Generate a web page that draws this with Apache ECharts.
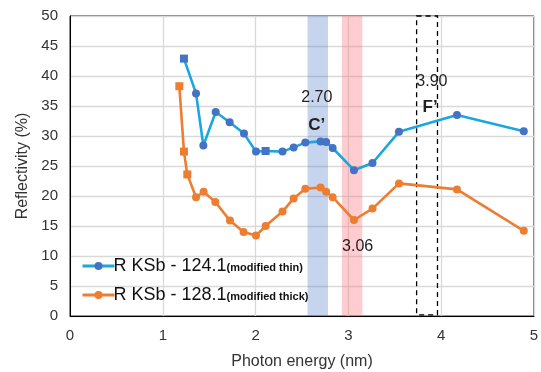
<!DOCTYPE html>
<html>
<head>
<meta charset="utf-8">
<script src="https://cdn.jsdelivr.net/npm/echarts@6/dist/echarts.min.js"></script>
<style>
  html, body { margin: 0; padding: 0; background: #fff; }
  #chart { width: 541px; height: 372px; }
</style>
</head>
<body>
<div id="chart"></div>
<script>
// photon energy (x) and reflectivity (%)
const thinEnergy = [1.228, 1.358, 1.437, 1.57, 1.72, 1.875, 2.004, 2.108, 2.29, 2.41, 2.536, 2.70, 2.76, 2.83, 3.06, 3.26, 3.545, 4.17, 4.89];
const thinRefl = [42.9, 37.1, 28.4, 34.0, 32.3, 30.4, 27.4, 27.5, 27.4, 28.1, 28.9, 29.1, 29.0, 28.0, 24.3, 25.5, 30.7, 33.5, 30.8];
const thickEnergy = [1.178, 1.228, 1.264, 1.358, 1.44, 1.566, 1.724, 1.87, 2.004, 2.108, 2.29, 2.41, 2.536, 2.70, 2.76, 2.83, 3.06, 3.26, 3.545, 4.17, 4.89];
const thickRefl = [38.3, 27.4, 23.6, 19.8, 20.7, 19.0, 15.9, 14.0, 13.4, 15.0, 17.4, 19.6, 21.2, 21.4, 20.7, 19.8, 16.0, 17.9, 22.1, 21.1, 14.2];

const seriesNames = ['R KSb - 124.1', 'R KSb - 128.1'];
const seriesNotes = ['(modified thin)', '(modified thick)'];

// highlighted bands and the dashed box (x ranges)
const bandC = [2.56, 2.78];
const bandRed = [2.93, 3.15];
const boxF = [3.735, 3.96];

// annotation texts: [x, y, text]
const notes = [
  [2.66, 36.4, '2.70'],
  [3.90, 39.0, '3.90'],
  [3.10, 11.6, '3.06']
];
const boldNotes = [
  [2.66, 31.8, 'C\u2019'],
  [3.88, 34.8, 'F\u2019']
];

// points drawn with square (error bar) markers
const thinSquares = [0, 7];
const thickSquares = [0, 1, 2];

const pairs = (xs, ys) => xs.map((x, i) => [x, ys[i]]);
const font = 'Liberation Sans, Arial, sans-serif';

const chart = echarts.init(document.getElementById('chart'));

const textLabel = (n, size, bold) => ({
  coord: [n[0], n[1]],
  symbol: 'circle',
  symbolSize: 1,
  itemStyle: { color: 'rgba(0,0,0,0)' },
  label: {
    show: true,
    position: 'inside',
    formatter: n[2],
    fontSize: size,
    fontWeight: bold ? 'bold' : 'normal',
    color: '#222',
    fontFamily: font
  }
});

const option = {
  animation: false,
  textStyle: { fontFamily: font },
  grid: {
    left: 70, right: 7, top: 16, bottom: 56,
    outerBoundsMode: 'none',
    show: true, borderColor: '#000', borderWidth: 1
  },
  legend: {
    orient: 'vertical',
    left: 76,
    top: 252,
    itemWidth: 32,
    itemHeight: 10,
    itemGap: 11,
    data: seriesNames,
    lineStyle: { width: 3 },
    formatter: name => {
      const i = seriesNames.indexOf(name);
      return '{a|' + name + '}{b|' + seriesNotes[i] + '}';
    },
    textStyle: {
      padding: [0, 0, 0, -6],
      rich: {
        a: { fontSize: 18, color: '#111', fontFamily: font },
        b: { fontSize: 11, fontWeight: 'bold', color: '#111', fontFamily: font, padding: [4, 0, 0, 0] }
      }
    }
  },
  xAxis: {
    type: 'value',
    min: 0, max: 5, interval: 1,
    name: 'Photon energy (nm)',
    nameLocation: 'middle',
    nameGap: 38,
    nameTextStyle: { fontSize: 16, color: '#333' },
    axisLine: { show: true, lineStyle: { color: '#000', width: 1 } },
    axisTick: { show: false },
    axisLabel: { fontSize: 15, color: '#333', margin: 12 },
    splitLine: { show: true, lineStyle: { color: '#d9d9d9', width: 1.3 } }
  },
  yAxis: {
    type: 'value',
    min: 0, max: 50, interval: 5,
    name: 'Reflectivity (%)',
    nameLocation: 'middle',
    nameGap: 38,
    nameTextStyle: { fontSize: 16, color: '#333' },
    axisLine: { show: true, lineStyle: { color: '#000', width: 1 } },
    axisTick: { show: false },
    axisLabel: { fontSize: 15, color: '#333', margin: 12 },
    splitLine: { show: true, lineStyle: { color: '#d9d9d9', width: 1.3 } }
  },
  series: [
    {
      name: seriesNames[0],
      type: 'line',
      data: pairs(thinEnergy, thinRefl),
      symbol: (v, p) => thinSquares.includes(p.dataIndex) ? 'rect' : 'circle',
      symbolSize: 8,
      lineStyle: { color: '#1ba6df', width: 2.6 },
      itemStyle: { color: '#4472c4' },
      z: 3,
      markPoint: {
        silent: true,
        data: notes.map(n => textLabel(n, 16, false))
          .concat(boldNotes.map(n => textLabel(n, 17, true)))
      }
    },
    {
      name: seriesNames[1],
      type: 'line',
      data: pairs(thickEnergy, thickRefl),
      symbol: (v, p) => thickSquares.includes(p.dataIndex) ? 'rect' : 'circle',
      symbolSize: 8,
      lineStyle: { color: '#ed7d31', width: 2.6 },
      itemStyle: { color: '#ed7d31' },
      z: 2
    },
    {
      name: 'bands',
      type: 'line',
      data: [],
      z: 5,
      silent: true,
      markArea: {
        silent: true,
        data: [
          [{ xAxis: bandC[0], itemStyle: { color: 'rgba(68,114,196,0.3)' } }, { xAxis: bandC[1] }],
          [{ xAxis: bandRed[0], itemStyle: { color: 'rgba(255,110,120,0.35)' } }, { xAxis: bandRed[1] }],
          [{
            xAxis: boxF[0], yAxis: 50.2,
            itemStyle: { color: 'rgba(0,0,0,0)', borderColor: '#000', borderWidth: 1.3, borderType: [5, 4], borderRadius: 3 }
          }, { xAxis: boxF[1], yAxis: 0.2 }]
        ]
      }
    }
  ]
};

chart.setOption(option);
</script>
</body>
</html>
